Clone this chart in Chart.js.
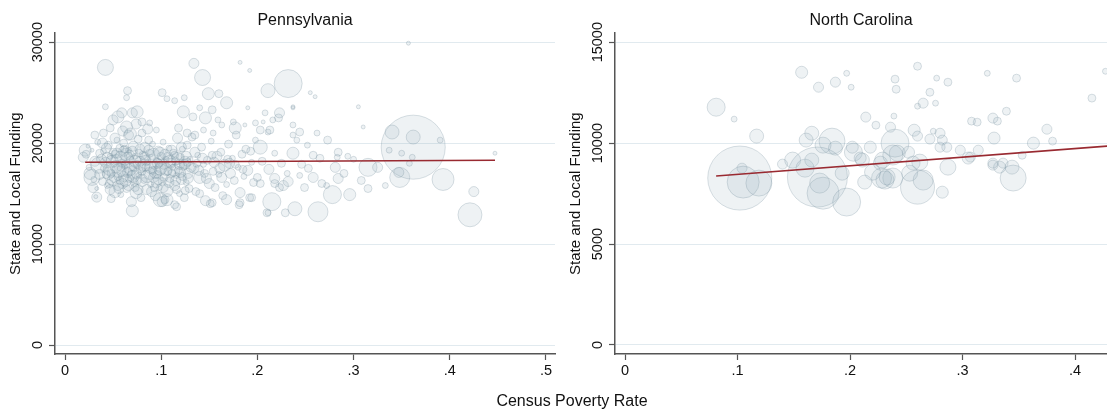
<!DOCTYPE html>
<html>
<head>
<meta charset="utf-8">
<script src="https://cdn.jsdelivr.net/npm/chart.js@4.4.1/dist/chart.umd.min.js"></script>
<style>
  html, body { margin: 0; padding: 0; background: #fff; overflow: hidden; width: 1107px; height: 411px; }
  #pa { position: absolute; left: 0; top: 0; }
  #nc { position: absolute; left: 560px; top: 0; }
  #xtitle {
    position: absolute; left: 572px; top: 391px; transform: translateX(-50%);
    font: 16px "Liberation Sans", Arial, Helvetica, sans-serif; color: #111;
    white-space: nowrap; line-height: 20px;
  }
</style>
</head>
<body>
<canvas id="pa" width="560" height="411"></canvas>
<canvas id="nc" width="547" height="411"></canvas>
<div id="xtitle">Census Poverty Rate</div>
<script>
// Districts: [census poverty rate, state and local funding per pupil, enrollment (thousands)]
const paDistricts = [
  [0.021,19300,4.6],[0.019,18600,3.2],[0.028,16600,8.1],[0.029,15600,3.2],[0.033,14650,3.2],
  [0.022,18900,2.0],[0.025,17600,1.1],[0.028,19300,0.5],[0.030,16400,1.1],[0.031,18200,3.2],
  [0.033,15500,0.5],[0.034,20100,1.1],[0.026,17000,4.6],[0.035,17800,8.1],[0.024,19700,0.5],
  [0.032,14700,0.5],[0.036,19000,2.0],
  [0.059,23000,3.2],[0.070,23000,3.2],[0.075,23100,4.6],[0.050,22300,3.2],[0.055,22600,4.6],
  [0.080,22100,2.0],[0.088,22000,1.1],[0.095,21300,1.1],[0.047,21500,2.0],[0.040,21000,2.0],
  [0.064,21600,4.6],[0.066,20800,3.2],[0.080,21000,2.0],[0.031,20800,2.0],[0.042,23600,1.1],
  [0.065,25200,2.0],[0.064,24500,1.1],
  [0.040,19200,1.1],[0.042,18100,3.2],[0.043,16900,2.0],[0.044,15800,1.1],[0.045,19800,2.0],
  [0.046,17400,4.6],[0.047,18700,1.1],[0.048,14500,2.0],[0.049,16300,3.2],[0.050,19100,2.0],
  [0.051,17900,1.1],[0.052,15200,4.6],[0.053,18400,3.2],[0.054,20300,1.1],[0.055,16700,2.0],
  [0.056,17300,6.2],[0.057,19500,2.0],[0.058,14900,1.1],[0.059,18000,2.0],[0.060,16000,3.2],
  [0.061,20000,2.0],[0.062,17700,1.1],[0.063,18900,4.6],[0.064,15500,2.0],[0.065,17100,3.2],
  [0.066,19300,1.1],[0.067,16500,2.0],[0.068,18300,2.0],[0.069,14200,3.2],[0.070,17500,1.1],
  [0.071,19700,3.2],[0.072,16100,2.0],[0.073,18700,1.1],[0.074,15100,4.6],[0.075,17900,2.0],
  [0.076,20400,2.0],[0.077,16800,1.1],[0.078,18200,3.2],[0.079,14600,2.0],[0.080,17200,2.0],
  [0.070,13300,4.6],
  [0.041,17500,2.0],[0.044,18600,3.2],[0.048,17000,2.0],[0.052,18900,2.0],[0.055,15800,3.2],
  [0.058,17600,2.0],[0.061,16700,3.2],[0.063,17900,2.0],[0.067,18800,3.2],[0.069,16900,2.0],
  [0.072,17700,3.2],[0.075,16300,2.0],[0.077,19000,2.0],[0.079,17600,3.2],[0.046,16000,2.0],
  [0.057,16300,2.0],[0.062,19400,2.0],[0.073,15600,2.0],
  [0.038,18400,3.2],[0.039,16200,2.0],[0.043,19500,3.2],[0.045,17000,4.6],[0.047,15400,3.2],
  [0.049,18200,4.6],[0.051,16600,3.2],[0.053,17700,4.6],[0.054,19000,3.2],[0.056,15500,3.2],
  [0.058,18600,4.6],[0.060,17300,4.6],[0.061,19200,3.2],[0.063,16300,4.6],[0.065,18500,4.6],
  [0.066,15800,3.2],[0.068,17400,4.6],[0.070,19200,3.2],[0.071,16700,4.6],[0.073,18200,4.6],
  [0.074,17000,3.2],[0.076,15400,3.2],[0.078,19400,3.2],[0.080,16300,4.6],[0.036,16900,3.2],
  [0.039,20000,3.2],[0.052,20500,3.2],[0.060,21200,3.2],[0.068,20900,4.6],[0.074,21900,3.2],
  [0.086,21400,3.2],
  [0.081,18800,2.0],[0.082,16300,1.1],[0.083,19600,3.2],[0.084,17600,2.0],[0.085,15400,3.2],
  [0.086,18100,1.1],[0.087,20300,2.0],[0.088,17000,4.6],[0.089,15900,1.1],[0.090,18500,2.0],
  [0.091,19900,1.1],[0.092,16600,3.2],[0.093,17800,2.0],[0.094,14800,3.2],[0.095,18300,1.1],
  [0.096,16900,2.0],[0.097,19200,3.2],[0.098,15600,1.1],[0.099,17400,4.6],[0.100,18700,2.0],
  [0.101,16200,2.0],[0.102,20100,1.1],[0.103,17900,3.2],[0.104,14400,2.0],[0.105,18400,1.1],
  [0.106,15300,4.6],[0.107,17200,2.0],[0.108,19500,1.1],[0.109,16500,2.0],[0.110,18000,3.2],
  [0.101,14200,3.2],[0.112,17600,1.1],[0.113,19000,2.0],[0.114,15800,3.2],[0.115,18200,2.0],
  [0.116,16800,1.1],[0.117,20500,3.2],[0.118,17300,2.0],[0.119,15000,1.1],[0.120,18600,2.0],
  [0.121,16400,3.2],[0.122,19400,1.1],[0.123,17700,2.0],[0.124,14600,2.0],[0.125,18100,4.6],
  [0.126,16100,1.1],[0.127,19800,2.0],[0.128,17000,3.2],[0.129,15500,2.0],[0.130,18400,1.1],
  [0.084,18300,3.2],[0.088,19000,2.0],[0.091,17300,2.0],[0.095,16100,3.2],[0.098,18000,2.0],
  [0.103,16600,2.0],[0.107,18600,3.2],[0.111,17000,2.0],[0.114,18800,2.0],[0.119,17900,3.2],
  [0.122,16700,2.0],[0.127,18100,2.0],[0.093,15600,2.0],[0.116,15400,2.0],
  [0.082,17800,4.6],[0.083,18600,3.2],[0.085,16700,4.6],[0.087,19300,3.2],[0.089,17600,4.6],
  [0.090,15200,3.2],[0.092,18900,4.6],[0.094,17100,4.6],[0.096,18000,3.2],[0.097,16400,3.2],
  [0.099,19000,4.6],[0.100,17600,4.6],[0.102,15600,3.2],[0.104,18900,3.2],[0.105,17400,4.6],
  [0.108,16100,3.2],[0.109,18200,4.6],[0.111,19300,3.2],[0.113,17300,4.6],[0.115,16300,3.2],
  [0.117,18500,4.6],[0.120,17100,3.2],[0.121,19600,3.2],[0.124,17900,3.2],[0.126,18700,3.2],
  [0.128,16500,3.2],
  [0.132,20600,2.0],[0.134,17500,3.2],[0.136,15200,2.0],[0.138,18800,1.1],[0.140,16600,4.6],
  [0.142,19600,2.0],[0.144,17900,1.1],[0.146,14300,3.2],[0.148,18300,2.0],[0.150,16000,3.2],
  [0.152,20200,1.1],[0.154,17200,2.0],[0.156,15600,2.0],[0.158,18700,3.2],[0.160,16900,1.1],
  [0.162,19100,2.0],[0.164,14800,2.0],[0.166,17800,4.6],[0.168,15900,1.1],[0.170,19900,2.0],
  [0.172,17000,3.2],[0.174,18500,1.1],[0.176,16300,2.0],[0.178,20800,2.0],[0.180,17600,1.1],
  [0.182,15100,3.2],[0.184,18900,2.0],[0.186,16700,1.1],[0.188,19400,2.0],[0.190,17300,3.2],
  [0.192,14600,2.0],[0.194,18100,1.1],[0.196,16100,2.0],[0.198,20300,1.1],[0.151,14000,2.0],
  [0.181,13900,2.0],[0.116,13700,2.0],
  [0.137,18000,2.0],[0.145,17000,2.0],[0.153,18800,2.0],[0.161,17500,3.2],[0.169,18400,2.0],
  [0.177,17900,2.0],[0.185,17400,2.0],[0.193,19200,2.0],
  [0.131,17600,3.2],[0.135,19100,3.2],[0.139,17300,3.2],[0.143,18500,3.2],[0.147,16500,3.2],
  [0.155,18100,3.2],[0.163,16600,3.2],[0.171,18000,3.2],
  [0.123,23100,4.6],[0.133,22600,2.0],[0.146,22500,4.6],[0.153,23300,2.0],[0.140,23500,1.1],
  [0.118,21500,2.0],[0.127,21000,2.0],[0.135,20800,2.0],[0.144,21300,1.1],[0.154,21000,1.1],
  [0.159,22300,1.1],[0.163,21800,1.1],[0.177,21500,4.6],[0.175,22100,1.1],[0.187,21800,0.5],
  [0.198,22000,1.1],[0.206,22100,0.5],[0.203,21300,2.0],[0.211,21100,1.1],[0.216,22300,1.1],
  [0.222,22500,2.0],[0.237,21800,1.1],[0.244,21100,2.0],[0.237,20800,1.1],[0.241,20300,1.1],
  [0.101,25000,2.0],[0.106,24400,1.1],[0.114,24200,1.1],[0.124,24500,1.1],[0.149,24900,4.6],
  [0.160,24900,2.0],[0.168,24000,4.6],[0.190,23500,0.5],[0.208,23000,1.1],[0.223,23000,3.2],
  [0.237,23500,0.5],[0.134,27900,3.2],[0.143,26500,8.1],[0.182,28000,0.5],[0.192,27200,0.5],
  [0.232,25900,24.8],[0.211,25200,6.2],[0.042,27500,8.1],
  [0.099,14400,6.2],[0.106,14400,4.6],[0.114,13900,2.0],[0.125,15300,2.0],[0.140,15000,2.0],
  [0.153,14100,2.0],[0.168,14400,3.2],[0.182,14100,2.0],[0.194,14600,2.0],[0.210,13100,2.0],
  [0.215,14200,10.3],[0.239,13500,6.2],[0.249,15600,2.0],[0.223,15600,2.0],[0.203,16000,2.0],
  [0.218,16000,2.0],[0.231,17000,1.1],[0.244,16800,1.1],
  [0.200,16600,2.0],[0.227,15800,3.2],[0.263,13200,12.7],[0.278,14900,10.3],[0.296,14900,4.6],
  [0.315,15500,2.0],[0.284,16500,3.2],[0.267,16000,2.0],[0.315,17600,10.3],[0.348,16600,12.7],
  [0.393,16400,15.3],[0.425,15200,3.2],[0.421,12900,18.2],[0.362,19600,130],[0.340,21100,6.2],
  [0.362,20600,6.2],[0.390,20300,1.1],[0.447,19000,0.5],[0.262,21000,1.1],[0.273,20300,2.0],
  [0.258,18800,2.0],[0.283,18600,1.1],[0.237,19000,4.6],[0.237,23600,0.5],[0.310,21600,0.5],
  [0.305,23600,0.5],[0.213,21300,2.0],[0.203,19600,6.2],[0.218,16500,3.2],[0.258,16600,3.2],
  [0.253,17500,2.0],[0.281,17600,3.2],[0.284,19100,2.0],[0.294,18700,1.1],[0.325,17600,3.2],
  [0.337,19300,1.1],[0.350,19000,1.1],[0.347,17100,3.2],[0.361,18600,1.1],[0.358,18000,1.1],
  [0.229,13100,2.0],[0.211,13100,1.1],[0.357,29900,0.5],[0.255,25000,0.5],[0.260,24600,0.5],
  [0.205,18200,2.0],[0.212,17400,3.2],[0.218,19000,1.1],[0.225,18000,2.0],[0.232,16200,3.2],
  [0.246,17900,2.0],[0.252,19800,1.1],[0.265,18500,2.0],[0.272,15800,1.1],[0.290,17000,2.0],
  [0.300,18400,1.1],[0.308,16300,2.0],[0.333,15800,1.1]
];

const ncDistricts = [
  [0.157,13510,4.6],[0.172,12770,3.2],[0.187,13020,3.2],[0.197,13460,1.1],[0.201,12770,1.1],
  [0.081,11780,10.3],[0.097,11190,1.1],[0.117,10350,6.2],[0.260,13810,2.0],[0.240,13170,2.0],
  [0.241,12670,2.0],[0.277,13220,1.1],[0.287,13020,2.0],[0.322,13460,1.1],[0.348,13220,2.0],
  [0.427,13560,1.1],[0.415,12230,2.0],[0.271,12520,2.0],[0.265,11980,3.2],[0.260,11830,1.1],
  [0.276,11980,1.1],[0.239,11340,1.1],[0.236,10790,3.2],[0.257,10640,4.6],[0.274,10590,1.1],
  [0.280,10490,3.2],[0.282,10150,3.2],[0.286,9800,3.2],[0.298,9650,3.2],[0.308,11090,2.0],
  [0.313,11040,2.0],[0.327,11240,3.2],[0.331,11090,2.0],[0.339,11580,2.0],[0.328,10250,4.6],
  [0.363,10000,4.6],[0.375,10690,3.2],[0.380,10100,2.0],[0.353,9400,2.0],[0.314,9650,3.2],
  [0.305,9260,4.6],[0.240,10000,24.8],[0.242,9500,8.1],[0.229,9160,8.1],[0.262,9060,8.1],
  [0.287,8810,8.1],[0.327,8910,3.2],[0.333,8810,4.6],[0.344,8810,6.2],[0.345,8270,21.4],
  [0.260,7820,36.6],[0.282,7570,4.6],[0.238,8270,12.7],[0.253,8510,8.1],[0.265,8170,12.7],
  [0.256,9010,6.2],[0.228,8270,12.7],[0.214,11290,3.2],[0.223,10890,2.0],[0.104,8760,3.2],
  [0.102,8270,130],[0.105,8070,32.4],[0.119,8020,21.4],[0.166,10490,6.2],[0.161,10150,6.2],
  [0.184,10100,21.4],[0.187,9750,6.2],[0.140,8960,3.2],[0.149,9160,8.1],[0.160,8760,10.3],
  [0.166,9160,6.2],[0.171,8320,114],[0.176,7520,32.4],[0.197,7080,24.8],[0.203,9550,10.3],
  [0.211,9160,6.2],[0.193,8510,6.2],[0.213,8070,6.2],[0.220,8560,8.1],[0.227,9010,6.2],
  [0.238,9410,12.7],[0.231,8170,10.3],[0.176,9900,8.1],[0.202,9800,4.6],[0.218,9800,4.6],
  [0.252,9550,4.6],[0.307,9310,3.2],[0.327,9010,3.2],[0.336,9010,3.2],[0.173,8020,12.7],
  [0.209,9260,4.6],[0.233,8320,8.1],[0.280,9800,3.2],[0.271,10200,3.2],[0.260,10350,3.2]
];

// Weighted linear fit, drawn across each state's observed poverty range
const paFitX = [0.021, 0.447];
const paFitY = [18100, 18300];
const ncFitX = [0.081, 0.430];
const ncFitY = [8370, 9860];

const paXTicks = [0, 0.1, 0.2, 0.3, 0.4, 0.5];
const paYTicks = [0, 10000, 20000, 30000];
const ncXTicks = [0, 0.1, 0.2, 0.3, 0.4];
const ncYTicks = [0, 5000, 10000, 15000];

const FONT = '"Liberation Sans", Arial, Helvetica, sans-serif';
Chart.defaults.font.family = FONT;
Chart.defaults.color = '#111';

// marker area proportional to enrollment
const RADIUS_PER_ROOT = 2.81;
const AXIS_COLOR = '#555';
const GRID_COLOR = '#e1eaef';

function rateLabel(v) {
  return v === 0 ? '0' : v.toFixed(1).replace(/^0/, '');
}

function makePanel(id, title, rows, fitX, fitY, xRange, yRange, xTicks, yTicks, padRight) {
  const bubbles = rows.map(([x, y, e]) => ({ x, y, r: RADIUS_PER_ROOT * Math.sqrt(e) }));
  const fit = fitX.map((x, i) => ({ x, y: fitY[i] }));
  return new Chart(document.getElementById(id), {
    type: 'bubble',
    data: {
      datasets: [
        {
          type: 'line',
          data: fit,
          borderColor: '#992a31',
          borderWidth: 1.6,
          pointRadius: 0,
          fill: false
        },
        {
          data: bubbles,
          backgroundColor: 'rgba(150,172,186,0.16)',
          borderColor: 'rgba(118,142,158,0.28)',
          borderWidth: 1,
          hoverRadius: 0
        }
      ]
    },
    options: {
      responsive: false,
      animation: false,
      devicePixelRatio: 1,
      events: [],
      layout: { autoPadding: false, padding: { top: 0, right: padRight, bottom: 0, left: 0 } },
      plugins: {
        legend: { display: false },
        tooltip: { enabled: false },
        title: {
          display: true,
          text: title,
          fullSize: false,
          color: '#111',
          font: { size: 16, weight: 'normal', family: FONT },
          padding: { top: 11, bottom: 3 }
        }
      },
      scales: {
        x: {
          type: 'linear',
          position: 'bottom',
          min: xRange[0],
          max: xRange[1],
          afterBuildTicks: s => { s.ticks = xTicks.map(v => ({ value: v })); },
          afterFit: s => { s.height = 57; },
          ticks: {
            callback: v => rateLabel(v),
            font: { size: 14.5 },
            color: '#111',
            padding: 2,
            maxRotation: 0,
            autoSkip: false
          },
          grid: { drawOnChartArea: false, drawTicks: true, tickLength: 6, tickColor: AXIS_COLOR, tickWidth: 1.2 },
          border: { color: AXIS_COLOR, width: 1.5 }
        },
        y: {
          type: 'linear',
          min: yRange[0],
          max: yRange[1],
          afterBuildTicks: s => { s.ticks = yTicks.map(v => ({ value: v })); },
          afterFit: s => { s.width = 55; },
          ticks: {
            callback: v => String(v),
            minRotation: 90,
            maxRotation: 90,
            crossAlign: 'center',
            padding: -9.2,
            font: { size: 14.5 },
            color: '#111',
            autoSkip: false
          },
          grid: { color: GRID_COLOR, lineWidth: 1, drawTicks: true, tickLength: 6, tickColor: AXIS_COLOR, tickWidth: 1.2 },
          border: { color: AXIS_COLOR, width: 1.5 },
          title: {
            display: true,
            text: 'State and Local Funding',
            color: '#111',
            font: { size: 15, family: FONT },
            padding: { top: 7, bottom: 0 }
          }
        }
      }
    }
  });
}

makePanel('pa', 'Pennsylvania', paDistricts, paFitX, paFitY,
  [-0.0104, 0.5094], [-891, 30891], paXTicks, paYTicks, 5);
makePanel('nc', 'North Carolina', ncDistricts, ncFitX, ncFitY,
  [-0.0089, 0.4284], [-446, 15446], ncXTicks, ncYTicks, 0);
</script>
</body>
</html>
